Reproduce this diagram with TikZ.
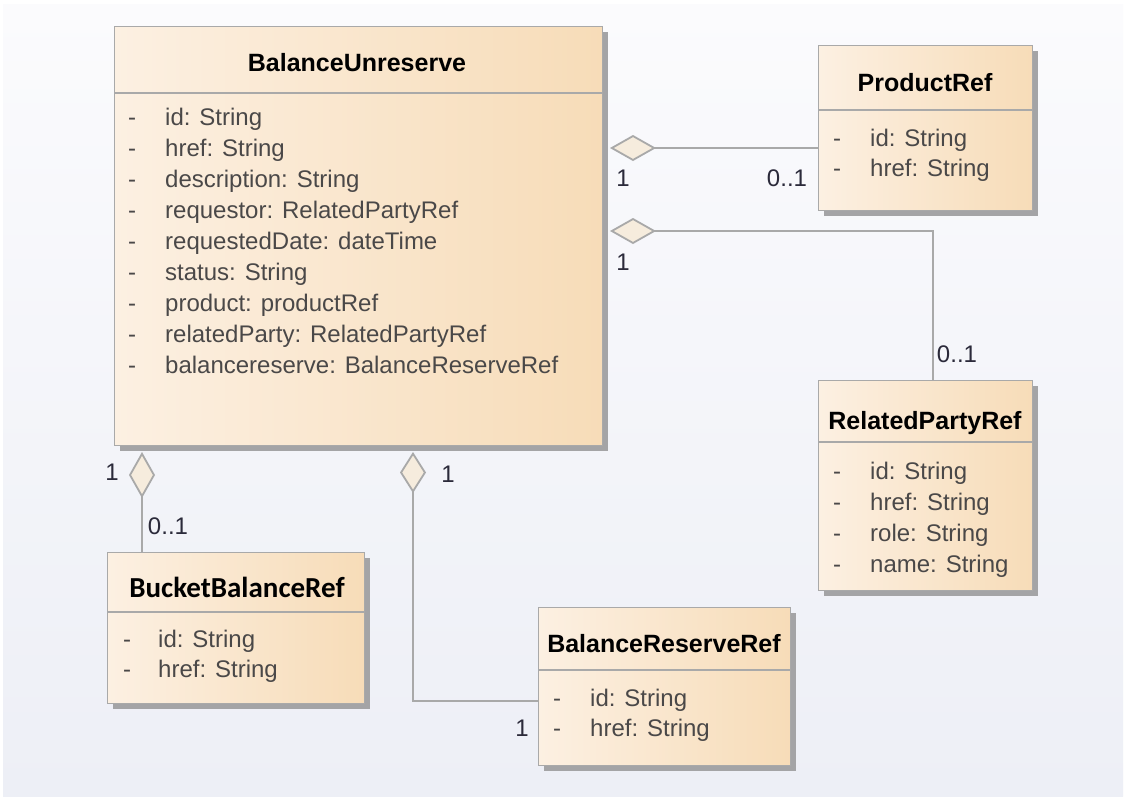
\documentclass[tikz,border=0pt]{standalone}
\usepackage{fontspec}
\setmainfont{Liberation Sans}
\newfontfamily\carl{Carlito}
\usetikzlibrary{arrows.meta}
\definecolor{bgtop}{HTML}{FBFBFD}
\definecolor{bgbot}{HTML}{EDEFF6}
\definecolor{boxl}{HTML}{FCF0E2}
\definecolor{boxr}{HTML}{F7DCB8}
\definecolor{bord}{HTML}{A9A9A9}
\definecolor{shad}{HTML}{A4A4A6}
\definecolor{attr}{HTML}{4A4848}
\definecolor{lbl}{HTML}{2B2A3A}
\definecolor{dfill}{HTML}{F6ECDD}
\begin{document}
\begin{tikzpicture}[x=1pt,y=-1pt,
 cls/.style={draw=bord, line width=1.3pt, left color=boxl, right color=boxr, anchor=north west, inner sep=0pt},
 shd/.style={fill=shad},
 sep/.style={draw=bord, line width=1.3pt},
 ttl/.style={font=\fontsize{25}{25}\selectfont\bfseries, text=black, anchor=base, inner sep=0pt},
 att/.style={font=\fontsize{24}{24}\selectfont, text=attr, anchor=base west, inner sep=0pt},
 mult/.style={font=\fontsize{24}{24}\selectfont, text=lbl, anchor=base, inner sep=0pt},
 agg/.style={draw=bord, line width=1.8pt, {Diamond[length=46pt,width=26pt,fill=dfill]}-},
]
\useasboundingbox (0,0) rectangle (1125,796);
\fill[white] (0,0) rectangle (1125,796);
\shade[top color=bgtop, bottom color=bgbot] (3,4) rectangle (1123,796);

% BalanceUnreserve
\fill[shd] (120,32) rectangle (608,451);
\node[cls, minimum width=488pt, minimum height=419pt] (BU) at (114,26) {};
\draw[sep] (114,93) -- (602,93);
\node[ttl] (BUt) at (357,71) {BalanceUnreserve};
\foreach \t [count=\i] in {id: String, href: String, description: String, requestor: RelatedPartyRef, requestedDate: dateTime, status: String, product: productRef, relatedParty: RelatedPartyRef, balancereserve: BalanceReserveRef} {
  \node[att] (bud\i) at (128,{125+31*(\i-1)}) {-};
  \node[att] (bua\i) at (165,{125+31*(\i-1)}) {\t};
}

% ProductRef
\fill[shd] (824,51) rectangle (1038,216);
\node[cls, minimum width=214pt, minimum height=165pt] (PR) at (818,45) {};
\draw[sep] (818,110) -- (1032,110);
\node[ttl] (PRt) at (925,91) {ProductRef};
\foreach \t [count=\i] in {id: String, href: String} {
  \node[att] (prd\i) at (833,{146+30*(\i-1)}) {-};
  \node[att] (pra\i) at (870,{146+30*(\i-1)}) {\t};
}

% RelatedPartyRef
\fill[shd] (824,386) rectangle (1038,596);
\node[cls, minimum width=214pt, minimum height=210pt] (RP) at (818,380) {};
\draw[sep] (818,442) -- (1032,442);
\node[ttl] (RPt) at (925,429) {RelatedPartyRef};
\foreach \t [count=\i] in {id: String, href: String, role: String, name: String} {
  \node[att] (rpd\i) at (833,{479+31*(\i-1)}) {-};
  \node[att] (rpa\i) at (870,{479+31*(\i-1)}) {\t};
}

% BucketBalanceRef
\fill[shd] (113,558) rectangle (370,709);
\node[cls, minimum width=257pt, minimum height=151pt] (BB) at (107,552) {};
\draw[sep] (107,612) -- (364,612);
\node[ttl, font=\fontsize{29}{29}\selectfont\carl\bfseries] (BBt) at (237,597) {BucketBalanceRef};
\foreach \t [count=\i] in {id: String, href: String} {
  \node[att] (bbd\i) at (123,{647+30*(\i-1)}) {-};
  \node[att] (bba\i) at (158,{647+30*(\i-1)}) {\t};
}

% BalanceReserveRef
\fill[shd] (544,613) rectangle (796,771);
\node[cls, minimum width=252pt, minimum height=158pt] (BR) at (538,607) {};
\draw[sep] (538,670) -- (790,670);
\node[ttl] (BRt) at (664,652) {BalanceReserveRef};
\foreach \t [count=\i] in {id: String, href: String} {
  \node[att] (brd\i) at (553,{706+30*(\i-1)}) {-};
  \node[att] (bra\i) at (590,{706+30*(\i-1)}) {\t};
}

% connectors
\coordinate (c1) at (610,148);
\draw[agg] (c1) -- (PR.west |- c1);
\coordinate (c2) at (610,231);
\draw[agg] (c2) -| ([xshift=7pt]RP.north);
\coordinate (c3) at (142,452);
\draw[agg] (c3) -- (c3 |- BB.north);
\coordinate (c4) at (413,452);
\draw[draw=bord, line width=1.8pt, {Diamond[length=41pt,width=26pt,fill=dfill]}-] (c4) |- ([yshift=-14pt]BR.west);

% multiplicities
\node[mult] (m1) at (623,186) {1};
\node[mult] (m2) at (787,186) {0..1};
\node[mult] (m3) at (623,270) {1};
\node[mult] (m4) at (957,362) {0..1};
\node[mult] (m5) at (112,480) {1};
\node[mult] (m6) at (168,534) {0..1};
\node[mult] (m7) at (448,482) {1};
\node[mult] (m8) at (522,736) {1};
\end{tikzpicture}
\end{document}
